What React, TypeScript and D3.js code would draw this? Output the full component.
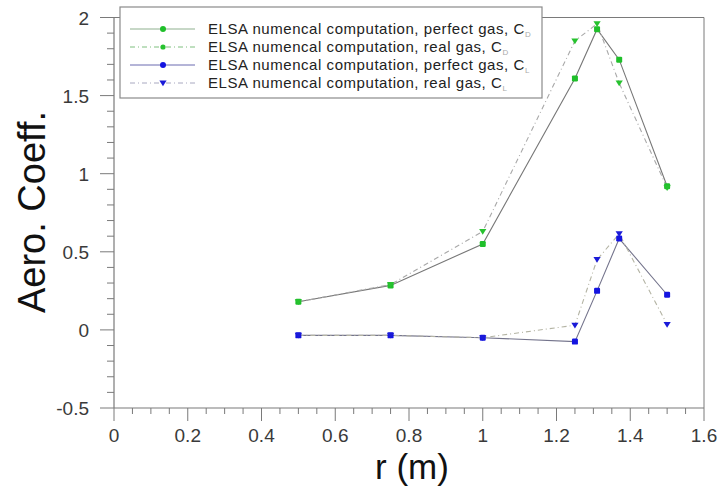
import React from "react";
import * as d3 from "d3";

const rValues = [0.5, 0.75, 1.0, 1.25, 1.31, 1.37, 1.5];
const cdPerfect = [0.18, 0.285, 0.55, 1.61, 1.925, 1.73, 0.92];
const cdReal = [0.18, 0.29, 0.63, 1.85, 1.96, 1.58, 0.91];
const clPerfect = [-0.035, -0.035, -0.05, -0.075, 0.25, 0.585, 0.225];
const clReal = [-0.035, -0.035, -0.05, 0.03, 0.45, 0.615, 0.035];

const xTicks = [0, 0.2, 0.4, 0.6, 0.8, 1, 1.2, 1.4, 1.6];
const yTicks = [-0.5, 0, 0.5, 1, 1.5, 2];
const legendLabels = [
  { main: "ELSA numencal computation, perfect gas, C", sub: "D" },
  { main: "ELSA numencal computation, real gas, C", sub: "D" },
  { main: "ELSA numencal computation, perfect gas, C", sub: "L" },
  { main: "ELSA numencal computation, real gas, C", sub: "L" },
];

const W = 719;
const H = 486;
const FONT = "'Liberation Sans', Arial, Helvetica, sans-serif";

type Series = {
  values: number[];
  color: string;
  lineColor: string;
  legendLine: string;
  dash?: string;
  marker: "square" | "tri" | "circle";
  legendMarker: "circle" | "tri" | "smallcircle";
};

const series: Series[] = [
  { values: cdPerfect, color: "#1fbf2a", lineColor: "#777777", legendLine: "#8fb08f", marker: "square", legendMarker: "circle" },
  { values: cdReal, color: "#27c22f", lineColor: "#a8a8a8", legendLine: "#7fbf7f", dash: "5,3,1,3", marker: "tri", legendMarker: "smallcircle" },
  { values: clPerfect, color: "#1414e0", lineColor: "#74748c", legendLine: "#6a6ab0", marker: "square", legendMarker: "circle" },
  { values: clReal, color: "#1a1ad8", lineColor: "#b4b4a4", legendLine: "#a8a8c0", dash: "5,3,1,3", marker: "tri", legendMarker: "tri" },
];

function Marker({ cx, cy, kind, color, size = 6 }: { cx: number; cy: number; kind: string; color: string; size?: number }) {
  if (kind === "square") {
    return <rect x={cx - size / 2} y={cy - size / 2} width={size} height={size} rx={1.2} fill={color} />;
  }
  if (kind === "tri") {
    const s = size * 0.6;
    return <path d={`M${cx - s},${cy - s * 0.7} L${cx + s},${cy - s * 0.7} L${cx},${cy + s * 0.9} Z`} fill={color} />;
  }
  if (kind === "smallcircle") {
    return <circle cx={cx} cy={cy} r={2.6} fill={color} />;
  }
  return <circle cx={cx} cy={cy} r={size / 2} fill={color} />;
}

export default function App() {
  const x = d3.scaleLinear().domain([0, 1.6]).range([114, 704]);
  const y = d3.scaleLinear().domain([-0.5, 2]).range([408, 17.5]);

  const xMinor = d3.range(0, 1.6001, 0.05).filter((v) => Math.abs(v / 0.2 - Math.round(v / 0.2)) > 1e-6);
  const yMinor = d3.range(-0.5, 2.0001, 0.1).filter((v) => Math.abs(v / 0.5 - Math.round(v / 0.5)) > 1e-6);

  const axisColor = "#7a7a7a";
  const labelColor = "#3a3a3a";

  const lineGen = (vals: number[]) =>
    d3
      .line<number>()
      .x((_, i) => x(rValues[i]))
      .y((d) => y(d))(vals) || "";

  const legendX0 = 120;
  const legendY0 = 7;
  const legendRows = [29, 47, 65, 83];

  return (
    <svg width={W} height={H} style={{ position: "absolute", left: 0, top: 0, background: "#fff" }} fontFamily={FONT}>
      <rect x={0} y={0} width={W} height={H} fill="#fff" />
      {/* frame */}
      <line x1={x(0)} y1={y(2)} x2={x(1.6)} y2={y(2)} stroke={axisColor} strokeWidth={1} />
      <line x1={x(1.6)} y1={y(2)} x2={x(1.6)} y2={y(-0.5)} stroke={axisColor} strokeWidth={1} />
      <line x1={x(0)} y1={y(2)} x2={x(0)} y2={y(-0.5)} stroke={axisColor} strokeWidth={1.2} />
      <line x1={x(0)} y1={y(-0.5)} x2={x(1.6)} y2={y(-0.5)} stroke={axisColor} strokeWidth={1.2} />

      {/* x ticks */}
      {xTicks.map((t) => (
        <g key={"xt" + t}>
          <line x1={x(t)} x2={x(t)} y1={y(-0.5)} y2={y(-0.5) + 13} stroke={axisColor} strokeWidth={1} />
          <text x={x(t)} y={y(-0.5) + 34} textAnchor="middle" fontSize={19} fill={labelColor}>
            {String(t)}
          </text>
        </g>
      ))}
      {xMinor.map((t) => (
        <line key={"xm" + t} x1={x(t)} x2={x(t)} y1={y(-0.5)} y2={y(-0.5) + 6} stroke={axisColor} strokeWidth={1} />
      ))}

      {/* y ticks */}
      {yTicks.map((t) => (
        <g key={"yt" + t}>
          <line x1={x(0) - 14} x2={x(0)} y1={y(t)} y2={y(t)} stroke={axisColor} strokeWidth={1} />
          <text x={89} y={y(t) + 7} textAnchor="end" fontSize={19} fill={labelColor}>
            {String(t)}
          </text>
        </g>
      ))}
      {yMinor.map((t) => (
        <line key={"ym" + t.toFixed(2)} x1={x(0) - 7} x2={x(0)} y1={y(t)} y2={y(t)} stroke={axisColor} strokeWidth={1} />
      ))}

      {/* axis titles */}
      <text x={412} y={479} textAnchor="middle" fontSize={35} fill="#111">
        r (m)
      </text>
      <text transform={`translate(45,212) rotate(-90)`} textAnchor="middle" fontSize={38} fill="#111">
        Aero. Coeff.
      </text>

      {/* series lines */}
      {series.map((s, i) => (
        <path
          key={"l" + i}
          d={lineGen(s.values)}
          fill="none"
          stroke={s.lineColor}
          strokeWidth={1.1}
          strokeDasharray={s.dash}
        />
      ))}
      {/* markers */}
      {series.map((s, i) =>
        s.values.map((v, j) => (
          <Marker key={"m" + i + "-" + j} cx={x(rValues[j])} cy={y(v)} kind={s.marker} color={s.color} />
        ))
      )}

      {/* legend */}
      <rect x={legendX0} y={legendY0} width={542 - legendX0} height={98 - legendY0} fill="#fff" stroke="#8a8a8a" strokeWidth={1.2} />
      {series.map((s, i) => {
        const cy = legendRows[i];
        return (
          <g key={"lg" + i}>
            <line x1={130} x2={195} y1={cy} y2={cy} stroke={s.legendLine} strokeWidth={1} strokeDasharray={s.dash} />
            <Marker cx={163} cy={cy} kind={s.legendMarker} color={s.color} size={6} />
            <text x={208} y={cy + 5} fontSize={15} fill="#222" letterSpacing={0.55}>
              {legendLabels[i].main}
              <tspan fontSize={8} dy={2.5} fill="#aaa" letterSpacing={0}>
                {legendLabels[i].sub}
              </tspan>
            </text>
          </g>
        );
      })}
    </svg>
  );
}
